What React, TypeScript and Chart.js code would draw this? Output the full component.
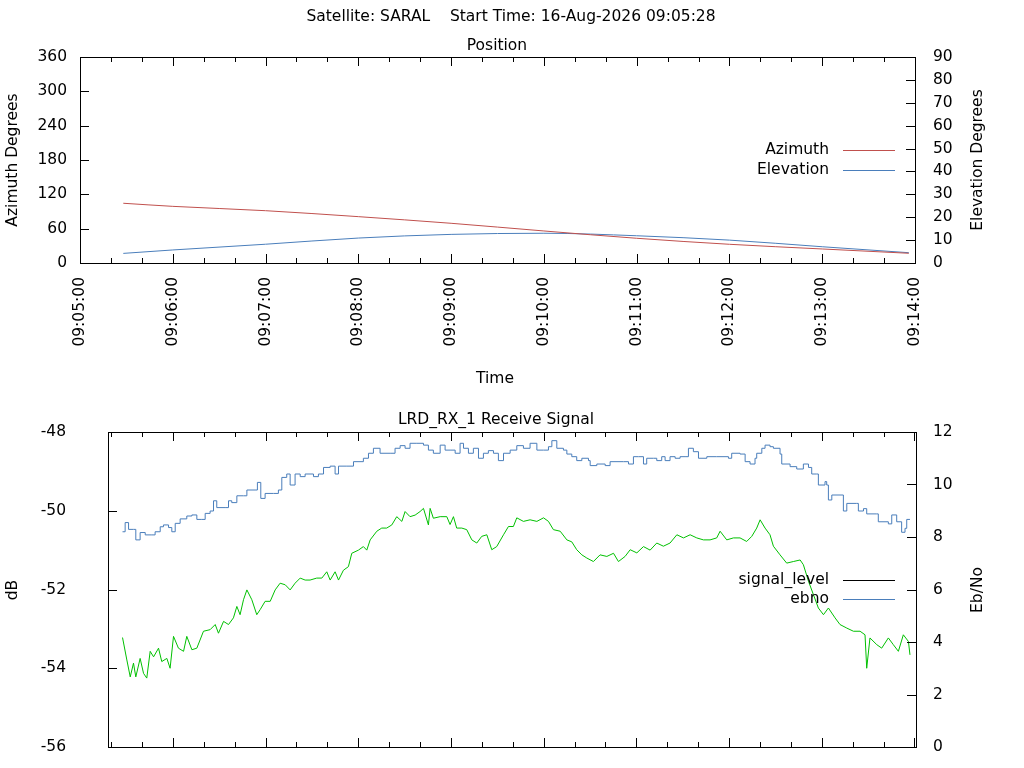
import React, { useEffect, useRef } from "react";
import { Chart, registerables } from "chart.js";
Chart.register(...registerables);

const FONT = "DejaVu Sans";
const FS = 15.5;

// ---- Position (seconds after 09:05:00)
const posTimes = [28, 60, 120, 180, 240, 300, 360, 420, 480, 536];
const azimuth = [104.4, 99, 91.4, 81, 69.4, 56, 43.2, 32.7, 24.5, 17];
const elevation = [4.2, 5.7, 8.2, 10.9, 12.5, 13.0, 11.9, 10.0, 7.1, 4.5];

// ---- Receive signal
const sigTimes = [27.4,30.2,32.4,34.5,36.0,38.8,41.0,43.1,45.3,47.5,50.7,52.8,56.1,58.2,60.4,63.6,66.9,69.0,72.3,75.5,79.8,84.1,87.4,89.5,92.8,96.0,99.2,101.4,103.5,105.7,107.9,111.1,114.3,116.5,119.7,123.0,126.2,129.4,132.7,135.9,139.1,142.4,145.6,148.8,153.1,156.4,159.6,161.8,165.0,167.2,170.4,173.6,175.8,180.1,183.3,185.5,187.7,192.0,195.2,198.4,201.7,204.9,208.2,210.3,213.5,216.8,220.0,222.2,225.4,226.5,228.6,233.0,237.3,239.4,241.6,243.7,247.0,250.2,253.5,256.7,259.9,263.2,266.4,269.6,274.0,277.2,280.4,282.6,286.9,291.2,295.6,299.9,303.1,306.3,310.7,315.0,318.2,321.4,324.7,327.9,332.2,336.5,340.9,345.2,348.4,352.7,356.0,360.3,364.6,368.9,373.2,377.5,381.8,386.2,390.5,394.8,399.1,403.4,407.7,412.0,414.2,418.5,422.8,427.1,431.4,434.7,437.9,440.1,443.3,446.5,448.7,453.0,457.3,461.6,466.0,468.1,471.4,474.6,477.8,481.1,484.3,488.6,491.8,496.2,500.5,504.8,508.0,509.1,511.2,515.6,518.8,523.1,526.3,529.6,532.8,536.1,537.1];
const signalLevel = [-53.22,-53.79,-54.22,-53.87,-54.22,-53.75,-54.13,-54.25,-53.57,-53.71,-53.49,-53.83,-53.75,-54.0,-53.19,-53.49,-53.57,-53.19,-53.53,-53.49,-53.06,-53.02,-52.89,-53.11,-52.81,-52.89,-52.72,-52.43,-52.64,-52.26,-52.01,-52.26,-52.64,-52.51,-52.30,-52.30,-52.01,-51.84,-51.88,-52.01,-51.84,-51.71,-51.76,-51.76,-51.71,-51.71,-51.55,-51.76,-51.55,-51.76,-51.51,-51.42,-51.08,-51.0,-50.91,-51.0,-50.74,-50.52,-50.44,-50.44,-50.36,-50.15,-50.27,-50.02,-50.15,-50.11,-50.02,-49.94,-50.36,-49.94,-50.19,-50.15,-50.15,-50.35,-50.15,-50.44,-50.44,-50.48,-50.74,-50.82,-50.65,-50.61,-50.99,-50.91,-50.61,-50.40,-50.40,-50.18,-50.27,-50.23,-50.27,-50.18,-50.27,-50.48,-50.52,-50.74,-50.79,-50.99,-51.12,-51.2,-51.29,-51.12,-51.16,-51.08,-51.29,-51.16,-50.99,-51.07,-50.91,-51.0,-50.82,-50.9,-50.82,-50.61,-50.69,-50.61,-50.69,-50.74,-50.74,-50.69,-50.52,-50.74,-50.69,-50.69,-50.78,-50.65,-50.44,-50.23,-50.44,-50.61,-50.9,-51.12,-51.33,-51.29,-51.25,-51.37,-51.79,-52.13,-52.47,-52.64,-52.47,-52.72,-52.89,-52.98,-53.06,-53.06,-53.15,-54.0,-53.23,-53.4,-53.49,-53.23,-53.4,-53.57,-53.15,-53.32,-53.66];

const ebnoTimes = [27.4,29.1,31.3,34.5,36.0,38.8,42.1,46.4,48.5,51.8,53.9,57.2,59.3,61.5,64.7,69.0,72.3,75.5,78.7,80.9,84.1,86.3,88.4,93.8,96.0,98.1,101.4,105.7,107.9,113.2,114.7,116.9,119.7,125.1,128.3,130.5,133.7,135.9,139.1,142.4,145.6,151.0,154.2,157.5,161.8,165.0,167.2,172.6,176.9,183.3,186.6,189.8,194.1,200.6,203.8,207.1,210.3,213.5,217.9,222.2,225.4,228.6,233.0,236.2,239.4,242.7,245.9,248.1,251.3,254.5,257.8,261.0,264.2,267.5,270.7,274.0,278.3,282.6,286.9,291.2,295.6,299.9,303.1,305.3,308.5,312.8,315.0,318.2,321.4,324.7,329.0,330.1,334.4,339.8,343.0,351.6,354.9,358.1,361.3,364.6,366.7,371.1,373.2,376.4,378.6,381.8,385.1,388.3,391.5,393.7,396.9,400.2,405.6,412.0,419.6,421.7,427.1,430.4,433.6,436.8,437.9,441.2,443.3,446.5,448.7,453.0,454.1,459.5,463.8,468.1,471.4,473.5,476.7,477.8,482.1,483.2,484.3,486.5,491.8,494.0,496.2,502.6,503.7,507.0,509.1,515.6,516.6,523.1,525.3,528.5,531.7,533.9,535.0,537.1];
const ebno = [8.20,8.55,8.29,8.29,7.89,8.17,8.08,8.08,8.20,8.39,8.46,8.36,8.20,8.52,8.69,8.80,8.84,8.67,8.67,8.90,8.99,9.38,9.12,9.12,9.38,9.31,9.57,9.57,9.79,9.79,10.08,9.47,9.66,9.66,9.79,10.27,10.40,9.98,10.40,10.30,10.40,10.30,10.40,10.65,10.70,10.40,10.70,10.70,10.87,11.0,11.19,11.38,11.19,11.19,11.38,11.48,11.38,11.57,11.57,11.50,11.31,11.19,11.50,11.31,11.31,11.19,11.57,11.38,11.19,11.38,11.0,11.19,11.29,11.19,10.91,11.19,11.31,11.48,11.38,11.57,11.31,11.31,11.44,11.67,11.38,11.31,11.16,11.06,10.91,11.0,10.91,10.72,10.78,10.72,10.87,10.87,10.78,11.06,11.06,10.78,11.0,11.0,10.91,11.06,10.91,11.06,11.0,11.06,11.06,11.38,11.25,11.0,11.06,11.06,11.0,11.19,11.16,10.87,10.78,11.0,11.19,11.38,11.50,11.44,11.38,11.16,10.78,10.68,10.59,10.78,10.65,10.40,10.40,9.98,10.11,9.98,9.41,9.60,9.60,8.99,9.28,9.28,8.99,9.08,8.88,8.88,8.58,8.50,8.84,8.58,8.18,8.33,8.67,8.67];

// bottom axis tick labels
const dbTicks = [-56, -54, -52, -50, -48];
const ebnoTicks = [0, 2, 4, 6, 8, 10, 12];

const RED = "#c0504d";
const BLUE = "#4a7ebb";
const GREEN = "#00c000";

function fmtTime(s: number) {
  const t = 9 * 3600 + 5 * 60 + s;
  const h = Math.floor(t / 3600), m = Math.floor((t % 3600) / 60), sec = Math.round(t % 60);
  const p = (n: number) => String(n).padStart(2, "0");
  return `${p(h)}:${p(m)}:${p(sec)}`;
}

type Txt = { text: string; x: number; y: number; rot?: number; align?: CanvasTextAlign };
type Leg = { label: string; color: string; y: number };

function framePlugin(texts: Txt[], legend: Leg[], yl: number[], yr: number[], labels: boolean) {
  return {
    id: "frame",
    afterDraw(chart: any) {
      const ctx = chart.ctx;
      const a = chart.chartArea;
      ctx.save();
      ctx.strokeStyle = "#000";
      ctx.lineWidth = 1;
      ctx.strokeRect(Math.round(a.left) + 0.5, Math.round(a.top) + 0.5, Math.round(a.right - a.left), Math.round(a.bottom - a.top));
      const x = chart.scales.x;
      ctx.beginPath();
      for (let v = Math.ceil(x.min / 20) * 20; v <= x.max; v += 20) {
        const px = Math.round(x.getPixelForValue(v)) + 0.5;
        const L = v % 60 === 0 ? 9 : 5;
        ctx.moveTo(px, a.bottom); ctx.lineTo(px, a.bottom - L);
        ctx.moveTo(px, a.top); ctx.lineTo(px, a.top + L);
      }
      const sl = chart.scales.y, sr = chart.scales.y2;
      yl.forEach((v) => {
        const py = Math.round(sl.getPixelForValue(v)) + 0.5;
        ctx.moveTo(a.left, py); ctx.lineTo(a.left + 9, py);
      });
      yr.forEach((v) => {
        const py = Math.round(sr.getPixelForValue(v)) + 0.5;
        ctx.moveTo(a.right, py); ctx.lineTo(a.right - 9, py);
      });
      ctx.stroke();
      ctx.fillStyle = "#000";
      ctx.font = `${FS}px "${FONT}"`;
      ctx.textBaseline = "middle";
      if (labels) {
        ctx.textAlign = "right";
        yl.forEach((v) => ctx.fillText(String(v), 66, sl.getPixelForValue(v)));
        ctx.textAlign = "left";
        yr.forEach((v) => ctx.fillText(String(v), 933, sr.getPixelForValue(v)));
      }
      texts.forEach((t) => {
        ctx.save();
        ctx.translate(t.x, t.y);
        if (t.rot) ctx.rotate(t.rot);
        ctx.textAlign = t.align || "center";
        ctx.fillText(t.text, 0, 0);
        ctx.restore();
      });
      legend.forEach((l) => {
        ctx.textAlign = "right";
        ctx.fillStyle = "#000";
        ctx.fillText(l.label, 829, l.y);
        ctx.strokeStyle = l.color;
        ctx.beginPath();
        ctx.moveTo(843, Math.round(l.y) + 0.5);
        ctx.lineTo(895, Math.round(l.y) + 0.5);
        ctx.stroke();
      });
      ctx.restore();
    },
  };
}

function tickFont() {
  return { family: FONT, size: FS };
}

export default function App() {
  const topRef = useRef<HTMLCanvasElement>(null);
  const botRef = useRef<HTMLCanvasElement>(null);

  useEffect(() => {
    const top = new Chart(topRef.current!, {
      type: "line",
      data: {
        datasets: [
          { label: "Azimuth", data: posTimes.map((t, i) => ({ x: t, y: azimuth[i] })), borderColor: RED, borderWidth: 1, pointRadius: 0, yAxisID: "y", cubicInterpolationMode: "monotone" },
          { label: "Elevation", data: posTimes.map((t, i) => ({ x: t, y: elevation[i] })), borderColor: BLUE, borderWidth: 1, pointRadius: 0, yAxisID: "y2", cubicInterpolationMode: "monotone" },
        ],
      },
      options: {
        animation: false, responsive: false, devicePixelRatio: 1,
        layout: { padding: { top: 57, left: 0, right: 0, bottom: 0 } },
        plugins: { legend: { display: false }, tooltip: { enabled: false } },
        scales: {
          x: {
            type: "linear", min: 0, max: 540,
            grid: { display: false, drawTicks: false }, border: { display: false },
            ticks: { stepSize: 60, color: "#000", font: tickFont(), minRotation: 90, maxRotation: 90, padding: 14, callback: (v: any) => fmtTime(Number(v)) },
            afterFit: (s: any) => { s.height = 390 - 263; },
          },
          y: {
            position: "left", min: 0, max: 360,
            grid: { display: false, drawTicks: false }, border: { display: false },
            ticks: { stepSize: 60, color: "#000", font: tickFont(), padding: 13 },
            afterFit: (s: any) => { s.width = 80; },
          },
          y2: {
            position: "right", min: 0, max: 90,
            grid: { display: false, drawTicks: false }, border: { display: false },
            ticks: { stepSize: 10, color: "#000", font: tickFont(), padding: 18 },
            afterFit: (s: any) => { s.width = 1024 - 915; },
          },
        },
      },
      plugins: [framePlugin([
        { text: "Satellite: SARAL    Start Time: 16-Aug-2026 09:05:28", x: 511, y: 17 },
        { text: "Position", x: 497, y: 46 },
        { text: "Time", x: 495, y: 379 },
        { text: "Azimuth Degrees", x: 13, y: 160, rot: -Math.PI / 2 },
        { text: "Elevation Degrees", x: 978, y: 160, rot: -Math.PI / 2 },
      ], [
        { label: "Azimuth", color: RED, y: 150 },
        { label: "Elevation", color: BLUE, y: 170 },
      ], [0, 60, 120, 180, 240, 300, 360], [0, 10, 20, 30, 40, 50, 60, 70, 80, 90], false)],
    } as any);

    const bot = new Chart(botRef.current!, {
      type: "line",
      data: {
        datasets: [
          { label: "signal_level", data: sigTimes.map((t, i) => ({ x: t, y: signalLevel[i] })), borderColor: GREEN, borderWidth: 1, pointRadius: 0, yAxisID: "y" },
          { label: "ebno", data: ebnoTimes.map((t, i) => ({ x: t, y: ebno[i] })), borderColor: BLUE, borderWidth: 1, pointRadius: 0, yAxisID: "y2", stepped: true },
        ],
      },
      options: {
        animation: false, responsive: false, devicePixelRatio: 1,
        layout: { padding: { top: 42, left: 108, right: 108, bottom: 21 } },
        plugins: { legend: { display: false }, tooltip: { enabled: false } },
        scales: {
          x: { type: "linear", min: 18, max: 541, display: false },
          y: { position: "left", min: -56, max: -48, display: false },
          y2: { position: "right", min: 0, max: 12, display: false },
        },
      },
      plugins: [framePlugin([
        { text: "LRD_RX_1 Receive Signal", x: 496, y: 30 },
        { text: "dB", x: 13, y: 200, rot: -Math.PI / 2 },
        { text: "Eb/No", x: 978, y: 200, rot: -Math.PI / 2 },
      ], [
        { label: "signal_level", color: "#000", y: 190 },
        { label: "ebno", color: BLUE, y: 209 },
      ], dbTicks, ebnoTicks, true)],
    } as any);

    return () => { top.destroy(); bot.destroy(); };
  }, []);

  return (
    <div style={{ position: "fixed", left: 0, top: 0, width: 1024, height: 768, background: "#fff" }}>
      <canvas ref={topRef} width={1024} height={390} style={{ position: "absolute", left: 0, top: 0 }} />
      <canvas ref={botRef} width={1024} height={378} style={{ position: "absolute", left: 0, top: 390 }} />
    </div>
  );
}
